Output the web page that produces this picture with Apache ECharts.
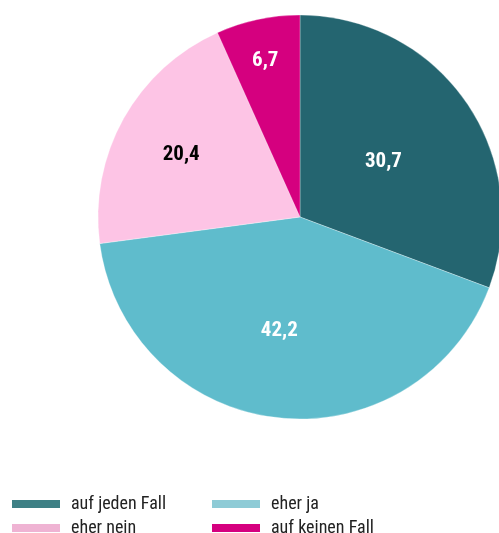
<!DOCTYPE html>
<html lang="de">
  <head>
    <meta charset="UTF-8" />
    <script src="https://cdn.jsdelivr.net/npm/echarts@6/dist/echarts.min.js"></script>
    <title>Pie</title>
    <style>
      html, body { margin: 0; padding: 0; background: #fff; }
      #chart { width: 499px; height: 533px; }
    </style>
  </head>
  <body>
    <div id="chart"></div>
    <script>
      const categories = ["auf jeden Fall", "eher ja", "eher nein", "auf keinen Fall"];
      const values = [30.7, 42.2, 20.4, 6.7];
      const sliceColors = ["#246570", "#5fbccc", "#fdc4e5", "#d5007f"];
      const legendColors = ["#3e8085", "#8ecbd6", "#efb3d3", "#d5007f"];
      const labelColors = ["#fff", "#fff", "#000", "#fff"];
      // nudge of each value label inside its slice
      const labelShift = [[-2, 4], [-9, 10], [-28, -12], [-13, -55]];
      // legend grid: column left edge and row top for each category
      const legendSpot = [[10, 495], [210, 495], [10, 519], [210, 519]];

      const font = "'Roboto Condensed', 'Roboto', sans-serif";
      const myChart = echarts.init(document.getElementById("chart"));

      const pieData = categories.map((name, i) => ({
        name: name,
        value: values[i],
        itemStyle: { color: sliceColors[i] },
        label: { color: labelColors[i] }
      }));

      const legends = categories.map((name, i) => ({
        left: legendSpot[i][0],
        top: legendSpot[i][1],
        padding: 0,
        itemWidth: 50,
        itemHeight: 10,
        icon: "rect",
        selectedMode: false,
        data: [{ name: name, itemStyle: { color: legendColors[i] } }],
        textStyle: { fontFamily: font, fontSize: 18, color: "#222", padding: [0, 0, 0, 5] }
      }));

      myChart.setOption({
        animation: false,
        legend: legends,
        series: [
          {
            type: "pie",
            center: [300, 217],
            radius: 202,
            startAngle: 90,
            clockwise: true,
            data: pieData,
            label: {
              position: "inside",
              fontFamily: font,
              fontWeight: "bold",
              fontSize: 21,
              formatter: (p) => String(p.value).replace(".", ",")
            },
            labelLayout: (p) => ({ dx: labelShift[p.dataIndex][0], dy: labelShift[p.dataIndex][1] }),
            labelLine: { show: false },
            itemStyle: { borderColor: "#fff", borderWidth: 0.3 }
          }
        ]
      });
    </script>
  </body>
</html>
